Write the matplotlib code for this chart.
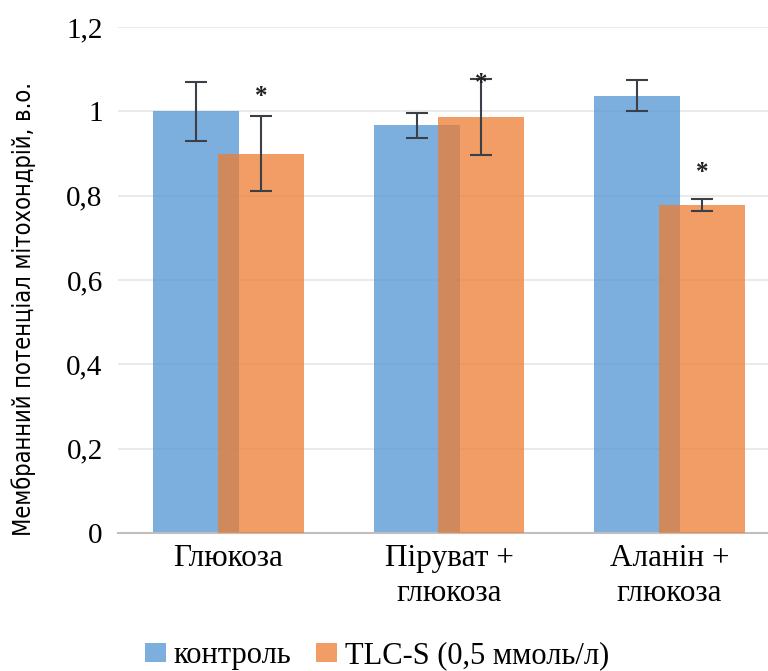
import matplotlib
matplotlib.use("Agg")
import matplotlib.pyplot as plt
import numpy as np

categories = ["Глюкоза", "Піруват +\nглюкоза", "Аланін +\nглюкоза"]
control = [1.00, 0.967, 1.037]
control_err = [0.07, 0.03, 0.037]
tlc = [0.90, 0.987, 0.778]
tlc_err = [0.09, 0.09, 0.015]
star_y = [1.035, 1.067, 0.854]
series_names = ["контроль", "TLC-S (0,5 ммоль/л)"]
yticks = [0, 0.2, 0.4, 0.6, 0.8, 1.0, 1.2]
ytick_labels = ["0", "0,2", "0,4", "0,6", "0,8", "1", "1,2"]
ylabel = "Мембранний потенціал мітохондрій, в.о."

plt.rcParams['font.family'] = ['Liberation Serif', 'DejaVu Serif']

fig = plt.figure(figsize=(7.68, 6.71), dpi=100)
ax = fig.add_axes([118/768, 1 - 533/671, (768 - 118)/768, (533 - 27)/671])

x = np.arange(len(categories))
w = 0.39
off = 0.147
blue = "#5B9BD5"
orange = "#ED7D31"
ax.bar(x - off, control, w, color=blue, alpha=0.8, label=series_names[0], zorder=2)
ax.bar(x + off, tlc, w, color=orange, alpha=0.75, label=series_names[1], zorder=3)
ax.errorbar(x - off, control, yerr=control_err, fmt='none', ecolor="#3a3f48",
            elinewidth=1.5, capsize=8, capthick=1.5, zorder=4)
ax.errorbar(x + off, tlc, yerr=tlc_err, fmt='none', ecolor="#3a3f48",
            elinewidth=1.5, capsize=8, capthick=1.5, zorder=4)
for xi, sy in zip(x + off, star_y):
    ax.text(xi, sy, "*", ha='center', va='center', fontsize=18, color="#222222",
            fontweight='bold', zorder=5)

ax.set_ylim(0, 1.2)
ax.set_xlim(-0.5, 2.5 - 12/221)
ax.set_yticks(yticks)
ax.set_yticklabels(ytick_labels, fontsize=21)
ax.set_xticks(x)
ax.set_xticklabels(categories, fontsize=22.5, linespacing=1.25)
ax.tick_params(axis='x', length=0, pad=8)
ax.tick_params(axis='y', length=0, pad=11)
ax.yaxis.grid(True, color="#e6e6e6", linewidth=1.2, zorder=0)
ax.set_axisbelow(True)
for s in ["top", "right", "left"]:
    ax.spines[s].set_visible(False)
ax.spines["bottom"].set_color("#bfbfbf")
ax.spines["bottom"].set_linewidth(1.5)

fig.text(24/768, 1 - 309/671, ylabel, rotation=90, ha='center', va='center',
         fontsize=17, family=['DejaVu Sans'], stretch='condensed')

handles, labels = ax.get_legend_handles_labels()
fig.legend(handles, labels, loc='center', bbox_to_anchor=(377/768, 1 - 656/671),
           ncol=2, frameon=False, fontsize=22, handlelength=0.7, handleheight=0.55,
           handletextpad=0.25, columnspacing=0.8)

fig.savefig("out.png", dpi=100)
